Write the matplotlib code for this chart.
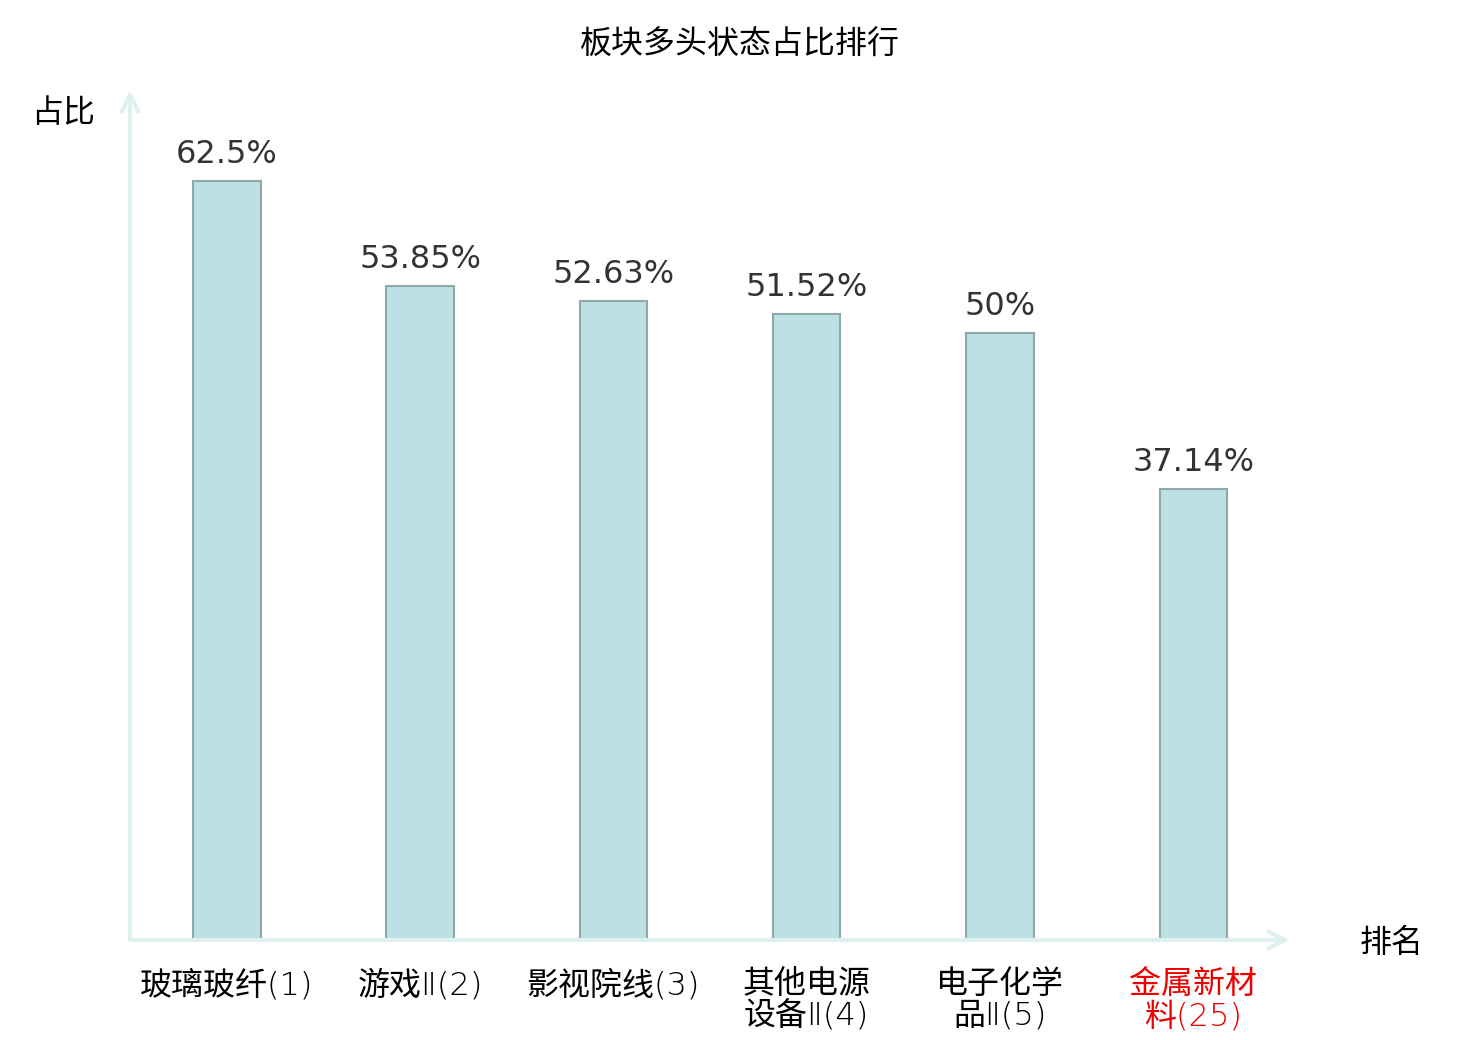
import matplotlib.pyplot as plt

plt.rcParams['font.family'] = ['Noto Sans CJK SC', 'DejaVu Sans']

# 数据
sectors = ['玻璃玻纤(1)', '游戏Ⅱ(2)', '影视院线(3)', '其他电源\n设备Ⅱ(4)', '电子化学\n品Ⅱ(5)', '金属新材\n料(25)']
ratios = [62.5, 53.85, 52.63, 51.52, 50, 37.14]
value_labels = ['62.5%', '53.85%', '52.63%', '51.52%', '50%', '37.14%']
label_colors = ['black', 'black', 'black', 'black', 'black', '#ee0000']

fig = plt.figure(figsize=(14.8, 10.4), dpi=100)
ax = fig.add_axes([130 / 1480, 100 / 1040, 1160 / 1480, 850 / 1040])

x = list(range(len(sectors)))
ax.bar(x, ratios, width=0.35, color='#bce0e3', edgecolor='#8fa9aa', linewidth=1.5)

for xi, v, s in zip(x, ratios, value_labels):
    ax.text(xi, v + 0.9, s, ha='center', va='bottom', fontsize=23,
            color='#333333', family='DejaVu Sans')

ax.set_xlim(-0.5, 5.5)
ax.set_ylim(0, 70)
for sp in ax.spines.values():
    sp.set_visible(False)
ax.set_yticks([])
ax.set_xticks(x)
ax.set_xticklabels(sectors, fontsize=23, linespacing=1.05,
                   family=['DejaVu Sans', 'Noto Sans CJK SC'], fontweight='light')
ax.tick_params(axis='x', length=0, pad=21)
for lab, c in zip(ax.get_xticklabels(), label_colors):
    lab.set_color(c)

# 坐标轴箭头
axis_color = '#dff1ef'
ax.annotate('', xy=(1.0, 0), xytext=(0, 0), xycoords='axes fraction',
            arrowprops=dict(arrowstyle='->', color=axis_color, lw=3,
                            mutation_scale=30, shrinkA=0, shrinkB=0))
ax.annotate('', xy=(0, 1.0), xytext=(0, 0), xycoords='axes fraction',
            arrowprops=dict(arrowstyle='->', color=axis_color, lw=3,
                            mutation_scale=30, shrinkA=0, shrinkB=0))

fig.text(63 / 1480, 1 - 113 / 1040, '占比', ha='center', va='center', fontsize=23)
fig.text(1392 / 1480, 1 - 943 / 1040, '排名', ha='center', va='center', fontsize=23)
fig.text(740 / 1480, 1 - 45 / 1040, '板块多头状态占比排行', ha='center', va='center', fontsize=23)

plt.savefig('out.png', dpi=100)
